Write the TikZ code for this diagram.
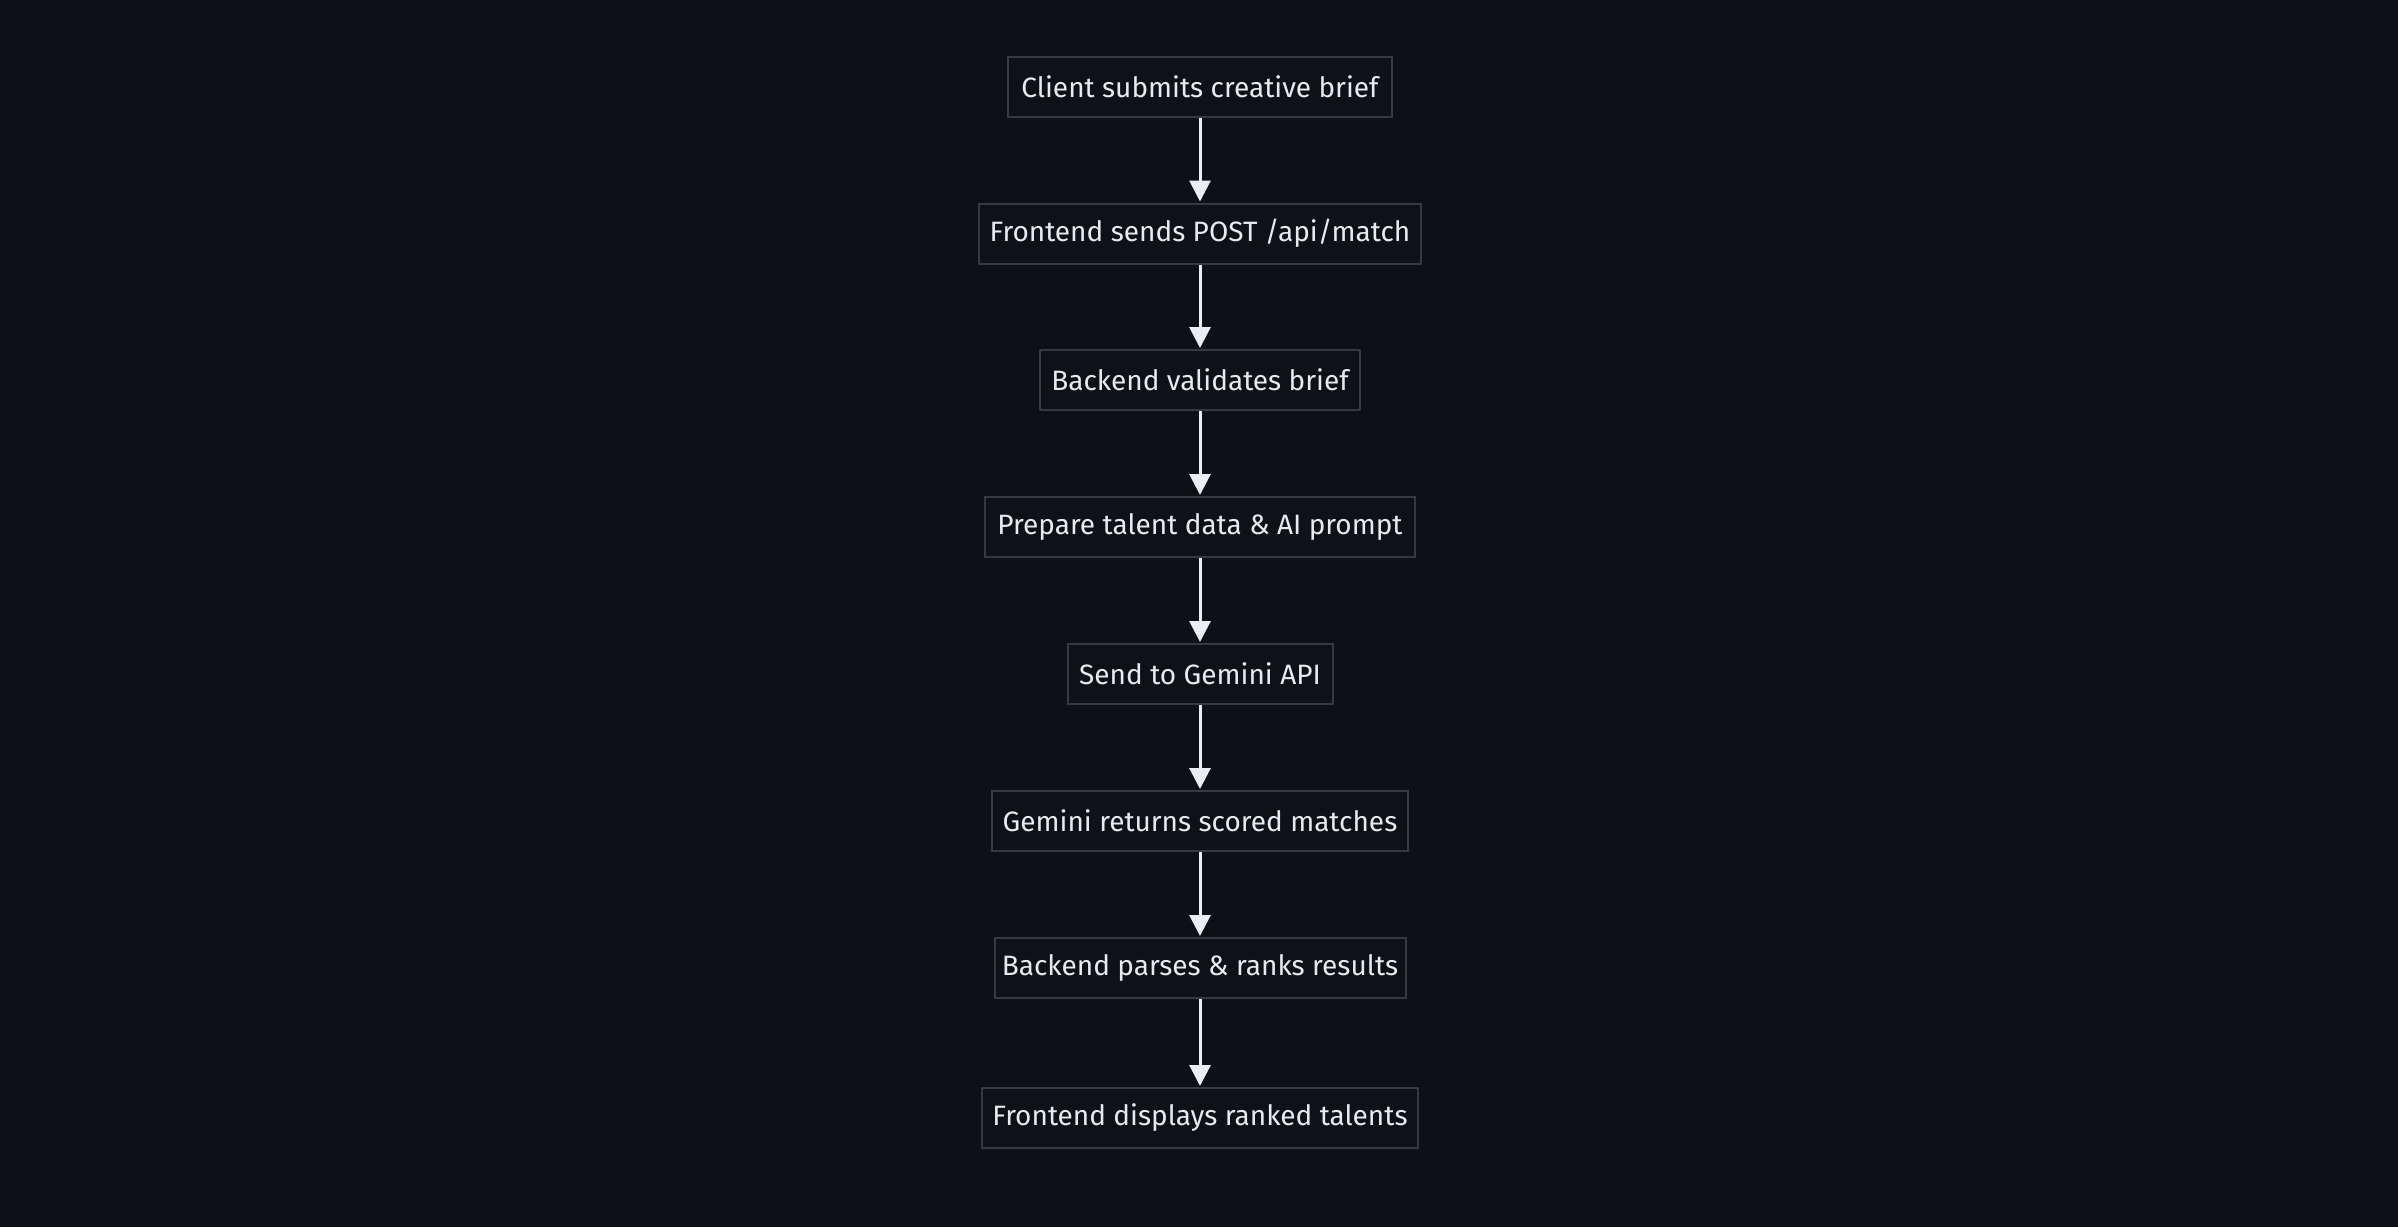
\documentclass[tikz,border=0pt]{standalone}
\usepackage{fontspec}
\setmainfont{Fira Sans}
\usetikzlibrary{arrows.meta}
\definecolor{bgc}{HTML}{0D1017}
\definecolor{boxfill}{HTML}{0E1118}
\definecolor{boxline}{HTML}{353941}
\definecolor{txt}{HTML}{E6EBF2}
\definecolor{arr}{HTML}{E8EEF6}
\tikzset{
  stepbox/.style={draw=boxline, line width=2pt, fill=boxfill, text=txt,
    minimum height=60pt, inner sep=0pt, font=\fontsize{28}{33}\selectfont, anchor=center},
  flow/.style={draw=arr, line width=3pt, -{Triangle[width=21pt,length=21pt]}, shorten >=1pt}
}
\begin{document}
\begin{tikzpicture}[x=1pt,y=-1pt]
\fill[bgc] (0,0) rectangle (2398,1227);
\useasboundingbox (0,0) rectangle (2398,1227);
\node[stepbox, minimum width=384pt] (n1) at (1200,86.5) {Client submits creative brief};
\node[stepbox, minimum width=442pt] (n2) at (1200,233.5) {Frontend sends POST /api/match};
\node[stepbox, minimum width=320pt] (n3) at (1200,380) {Backend validates brief};
\node[stepbox, minimum width=430pt] (n4) at (1200,527) {Prepare talent data \& AI prompt};
\node[stepbox, minimum width=265pt] (n5) at (1200,674) {Send to Gemini API};
\node[stepbox, minimum width=416pt] (n6) at (1200,821) {Gemini returns scored matches};
\node[stepbox, minimum width=411pt] (n7) at (1200,968) {Backend parses \& ranks results};
\node[stepbox, minimum width=436pt] (n8) at (1200,1118) {Frontend displays ranked talents};
\draw[flow] (n1) -- (n2);
\draw[flow] (n2) -- (n3);
\draw[flow] (n3) -- (n4);
\draw[flow] (n4) -- (n5);
\draw[flow] (n5) -- (n6);
\draw[flow] (n6) -- (n7);
\draw[flow] (n7) -- (n8);
\end{tikzpicture}
\end{document}
